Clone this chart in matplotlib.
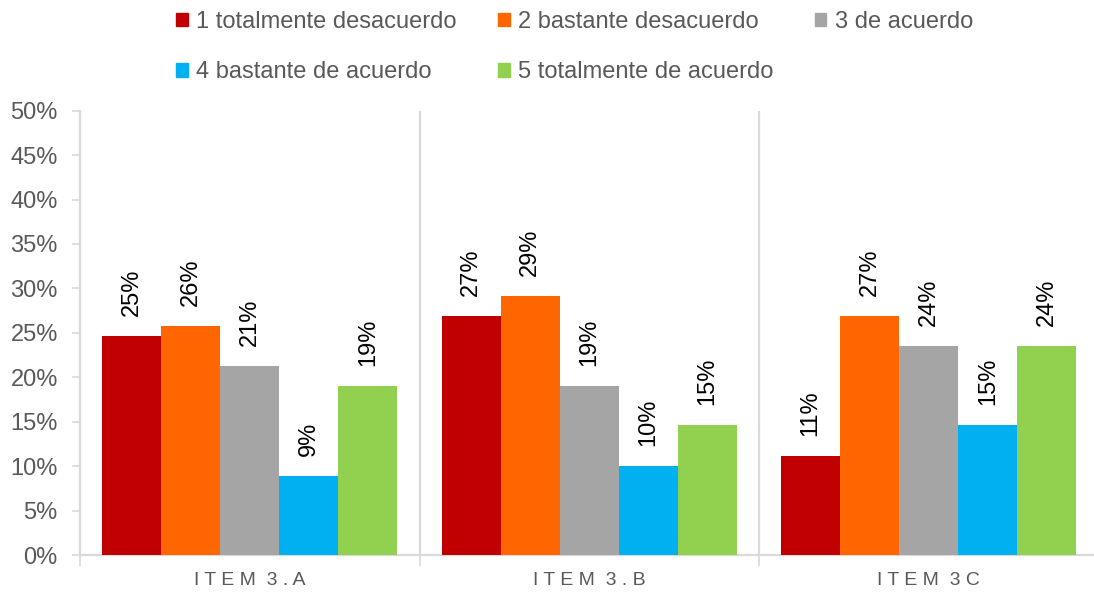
import matplotlib
matplotlib.use("Agg")
import matplotlib.pyplot as plt
from matplotlib.patches import Rectangle
from matplotlib.ticker import FixedLocator, PercentFormatter

plt.rcParams["font.family"] = ["Liberation Sans", "DejaVu Sans"]

# Survey answers per item (percent of respondents)
items = ["ITEM 3.A", "ITEM 3.B", "ITEM 3C"]
series_names = [
    "1 totalmente desacuerdo",
    "2 bastante desacuerdo",
    "3 de acuerdo",
    "4 bastante de acuerdo",
    "5 totalmente de acuerdo",
]
totalmente_desacuerdo = [24.6, 26.9, 11.1]
bastante_desacuerdo = [25.8, 29.1, 26.9]
de_acuerdo = [21.3, 19.0, 23.5]
bastante_de_acuerdo = [8.9, 10.0, 14.6]
totalmente_de_acuerdo = [19.0, 14.6, 23.5]
series_values = [
    totalmente_desacuerdo,
    bastante_desacuerdo,
    de_acuerdo,
    bastante_de_acuerdo,
    totalmente_de_acuerdo,
]
colors = ["#C00000", "#FF6600", "#A5A5A5", "#00B0F0", "#92D050"]

text_gray = "#595959"
line_gray = "#D9D9D9"

W, H = 1094, 594
fig = plt.figure(figsize=(W / 100, H / 100), dpi=100)
ax = fig.add_axes([80 / W, 1 - 555 / H, (1098.5 - 80) / W, (555 - 110.7) / H])

n = len(series_values)
bar_w = 0.174
for i, (vals, col, name) in enumerate(zip(series_values, colors, series_names)):
    xs = [k + (i - (n - 1) / 2) * bar_w for k in range(len(items))]
    bars = ax.bar(xs, vals, width=bar_w, color=col, label=name, zorder=3)
    for b, v in zip(bars, vals):
        ax.annotate(f"{v:.0f}%", (b.get_x() + b.get_width() / 2, v),
                    xytext=(0, 14.5), textcoords="offset points",
                    rotation=90, ha="center", va="bottom",
                    fontsize=17, color="black")

ax.set_xlim(-0.5, len(items) - 0.5)
ax.set_ylim(0, 50)

# category separators
for k in range(1, len(items)):
    ax.axvline(k - 0.5, color=line_gray, lw=1.6, zorder=1)

for side in ["top", "right"]:
    ax.spines[side].set_visible(False)
ax.spines["left"].set_color(line_gray)
ax.spines["left"].set_linewidth(1.6)
ax.spines["bottom"].set_color(line_gray)
ax.spines["bottom"].set_linewidth(1.6)

ax.yaxis.set_major_locator(FixedLocator(range(0, 51, 5)))
ax.yaxis.set_major_formatter(PercentFormatter(decimals=0))
ax.tick_params(axis="y", direction="out", length=6, width=1.2, color=line_gray,
               labelsize=17, labelcolor=text_gray, pad=10)


def spaced(label):
    return " ".join(label).replace("   ", "  ")


ax.set_xticks(range(len(items)))
ax.set_xticklabels([spaced(s) for s in items])
ax.tick_params(axis="x", which="major", length=0, labelsize=14,
               labelcolor=text_gray, pad=12)
ax.set_xticks([k - 0.5 for k in range(len(items) + 1)], minor=True)
ax.tick_params(axis="x", which="minor", direction="out", length=8, width=1.2,
               color=line_gray)

# legend laid out row by row: matplotlib fills columns first
order = [0, 3, 1, 4, 2]
handles = [Rectangle((0, 0), 1, 1, color=colors[i]) for i in order]
labels = [series_names[i] for i in order]
fig.legend(handles, labels, loc="upper left",
           bbox_to_anchor=(176 / W, 1 - 11 / H), ncol=3, frameon=False,
           fontsize=17, labelcolor=text_gray, handlelength=0.5,
           handleheight=0.5, handletextpad=0.35, columnspacing=1.75,
           labelspacing=1.2, borderpad=0, borderaxespad=0)

fig.savefig("out.png", dpi=100)
